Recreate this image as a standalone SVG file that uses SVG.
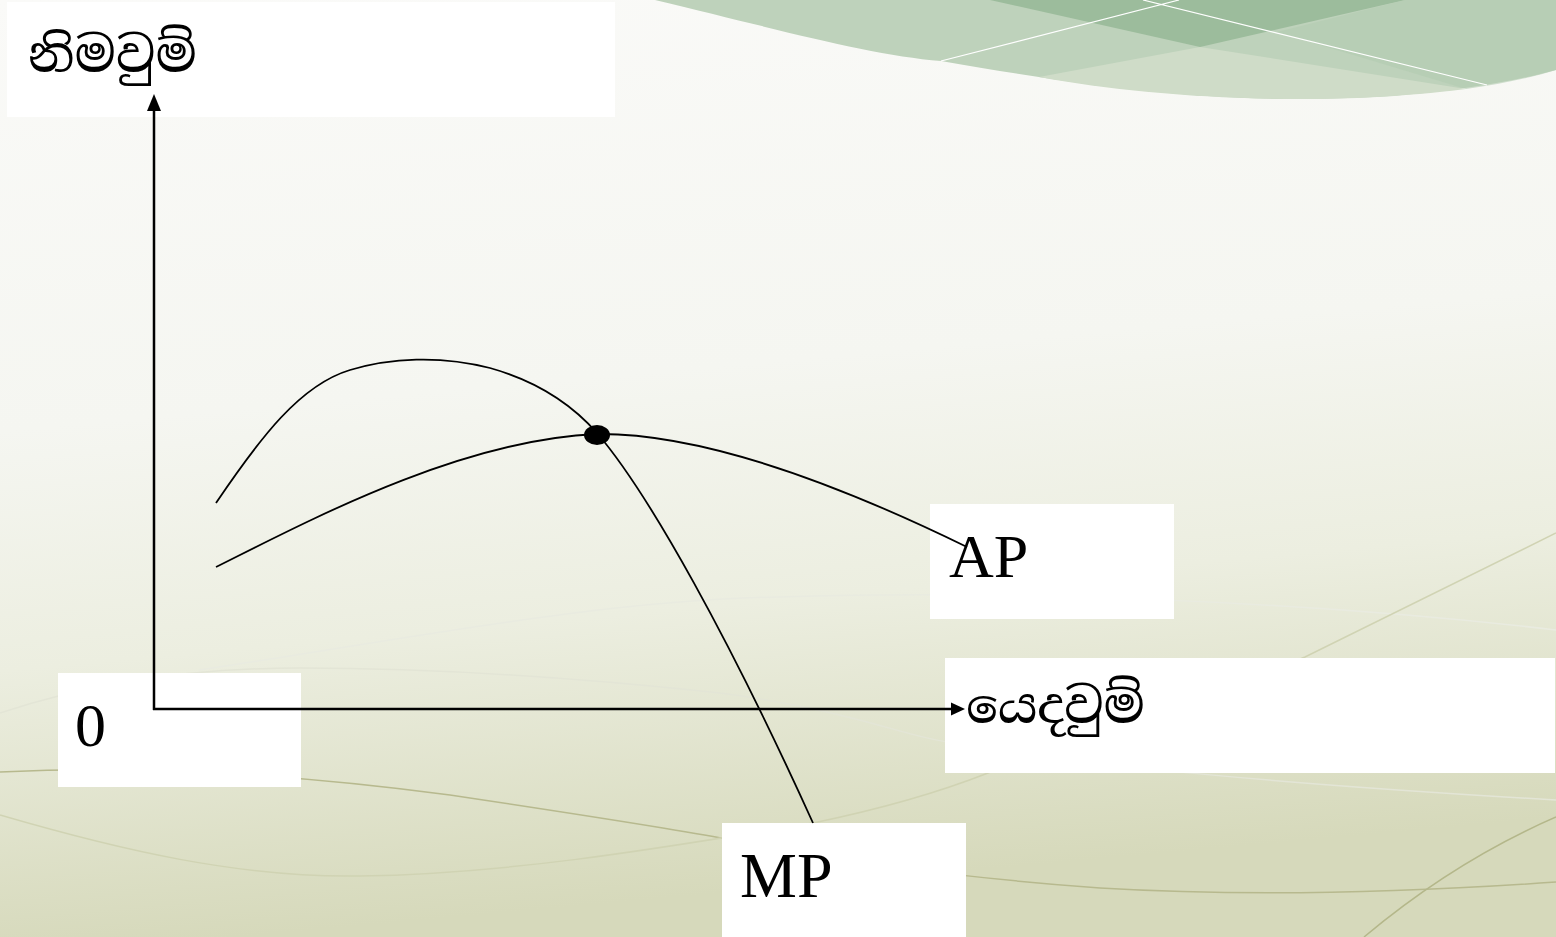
<svg xmlns="http://www.w3.org/2000/svg" width="1556" height="937" viewBox="0 0 1556 937">
<defs>
<linearGradient id="bg" x1="0" y1="0" x2="0.15" y2="1">
<stop offset="0" stop-color="#fafaf8"/>
<stop offset="0.45" stop-color="#f5f6f1"/>
<stop offset="0.7" stop-color="#eceee0"/>
<stop offset="1" stop-color="#d6d9bb"/>
</linearGradient>
</defs>
<style>
.box{fill:#ffffff}
.lbl{font-family:"Liberation Serif","Times New Roman",serif;fill:#000}
.si{font-family:"Noto Serif Sinhala","Iskoola Pota","Noto Sans Sinhala","LKLUG","Noto Sans",serif;fill:#000}
.axis{stroke:#000;stroke-width:2.5;fill:none}
.curve{stroke:#000;stroke-width:1.8;fill:none}
.deco{fill:none;stroke-width:1.5}
.head{fill:#000}
</style>
<rect width="1556" height="937" fill="url(#bg)"/>
<g id="background-decor">
<path class="deco" d="M199,670 C400,640 600,600 780,597 C1000,590 1300,600 1556,630" stroke="#e9ebe0"/>
<path class="deco" d="M0,713 C100,680 200,668 300,668 C450,668 600,680 720,693 C850,710 900,735 947,742 C1100,768 1300,785 1556,800" stroke="#e3e5d6"/>
<path class="deco" d="M0,772 C150,765 300,775 450,795 C550,810 650,825 721,838 C850,862 950,877 1100,888 C1250,897 1400,893 1556,882" stroke="#b7b98e"/>
<path class="deco" d="M0,815 C120,850 240,878 360,876 C500,874 640,852 813,823 C900,805 950,788 988,773 C1120,720 1250,680 1305,657 C1400,610 1480,570 1556,533" stroke="#d0d3b3"/>
<path class="deco" d="M1364,937 C1420,890 1480,850 1556,817" stroke="#b4b78a"/>
</g>
<g id="top-swoosh">
<path d="M655,0 C780,30 870,55 941,61 C1050,80 1180,100 1301,99 C1400,99 1490,88 1556,70 L1556,0 Z" fill="#bed2bb"/>
<path d="M1039,77 L1200,47 L1466,89 C1400,97 1350,99 1301,99 C1200,99 1110,90 1039,77 Z" fill="#cfdcc8"/>
<path d="M990,0 L1200,47 L1405,0 Z" fill="#9cbc9c"/>
<path d="M1277,32 L1405,0 L1556,0 L1556,70 C1530,78 1500,84 1466,89 Z" fill="#b2cbb0" opacity="0.6"/>
<path d="M941,61 L1179,0 M1143,0 L1487,85" stroke="#ffffff" stroke-width="1.2" fill="none"/>
</g>
<g id="node-output-label">
<rect class="box" x="7" y="2" width="608" height="115"/>
<text class="si" x="28" y="72" font-size="50">නිමවුම්</text>
</g>
<g id="node-origin">
<rect class="box" x="58" y="673" width="243" height="114"/>
<text class="lbl" x="75" y="746" font-size="62">0</text>
</g>
<g id="node-ap">
<rect class="box" x="930" y="504" width="244" height="115"/>
<text class="lbl" x="949" y="577" font-size="62">AP</text>
</g>
<g id="node-input-label">
<rect class="box" x="945" y="658" width="610" height="115"/>
<text class="si" x="966" y="723" font-size="50">යෙදවුම්</text>
</g>
<g id="node-mp">
<rect class="box" x="722" y="823" width="244" height="114"/>
<text class="lbl" x="740" y="897" font-size="64">MP</text>
</g>
<g id="connectors">
<line class="axis" x1="154" y1="710" x2="154" y2="108"/>
<polygon class="head" points="154,94 147,111 161,111"/>
<line class="axis" x1="153" y1="709" x2="953" y2="709"/>
<polygon class="head" points="965,709 951,702.5 951,715.5"/>
<path class="curve" d="M216,503 C260,438 300,385 350,370 C390,358 440,355 490,368 C540,382 575,408 597,433 C650,495 730,640 813,823"/>
<path class="curve" d="M216,567 C310,520 460,440 597,434 C700,433 830,480 967,547"/>
<ellipse cx="597" cy="435" rx="13" ry="10" fill="#000"/>
</g>
</svg>
